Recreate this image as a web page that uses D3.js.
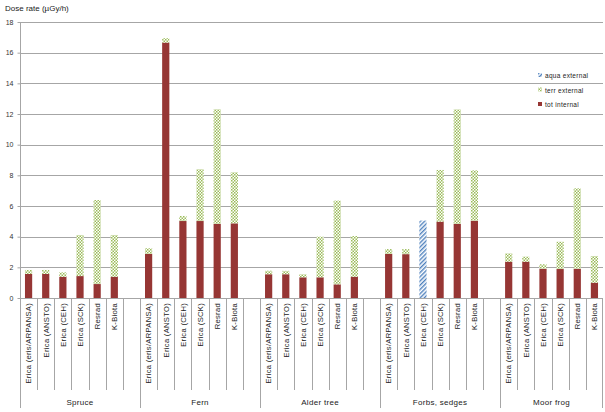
<!DOCTYPE html>
<html><head><meta charset="utf-8">
<script src="https://cdn.jsdelivr.net/npm/d3@7"></script>
<style>
body{margin:0;background:#fff;}
svg{display:block;font-family:"Liberation Sans",Arial,sans-serif;}
</style></head>
<body><svg id="c" width="605" height="412"></svg>
<script>
const groups = ["Spruce","Fern","Alder tree","Forbs, sedges","Moor frog"];
const models = ["Erica (eris/ARPANSA)","Erica (ANSTO)","Erica (CEH)","Erica (SCK)","Resrad","K-Biota"];
// values per group, per model (µGy/h)
const totInternal = [
  [1.57,1.57,1.39,1.43,0.91,1.39],
  [2.87,16.66,5.02,5.02,4.83,4.87],
  [1.55,1.55,1.35,1.35,0.89,1.39],
  [2.87,2.86,0,4.98,4.83,5.04],
  [2.37,2.37,1.91,1.89,1.91,1.00]
];
const terrExternal = [
  [0.26,0.26,0.28,2.68,5.48,2.72],
  [0.37,0.28,0.33,3.38,7.48,3.33],
  [0.23,0.22,0.20,2.65,5.46,2.65],
  [0.32,0.33,0,3.37,7.47,3.28],
  [0.54,0.33,0.29,1.78,5.24,1.74]
];
const aquaExternal = [
  [0,0,0,0,0,0],
  [0,0,0,0,0,0],
  [0,0,0,0,0,0],
  [0,0,5.05,0,0,0],
  [0,0,0,0,0,0]
];
const seriesNames = ["tot internal","terr external","aqua external"];
const yTicks = [0,2,4,6,8,10,12,14,16,18];
const yTitle = "Dose rate (µGy/h)";

const svg = d3.select("#c");
const W=605,H=412;
const x0=20,x1=603,yTop=22,yBot=298;

// defs
const defs = svg.append("defs");
const chk = defs.append("pattern").attr("id","chk").attr("patternUnits","userSpaceOnUse").attr("width",3).attr("height",3);
chk.append("rect").attr("width",3).attr("height",3).attr("fill","#fff");
chk.append("rect").attr("width",1.5).attr("height",1.5).attr("fill","#9bbb59");
chk.append("rect").attr("x",1.5).attr("y",1.5).attr("width",1.5).attr("height",1.5).attr("fill","#9bbb59");
const hat = defs.append("pattern").attr("id","hat").attr("patternUnits","userSpaceOnUse").attr("width",3).attr("height",3).attr("patternTransform","rotate(45)");
hat.append("rect").attr("width",3).attr("height",3).attr("fill","#fff");
hat.append("rect").attr("width",1.4).attr("height",3).attr("fill","#4f81bd");
const fills = ["#963634","url(#chk)","url(#hat)"];

// slots
const slots=[];
groups.forEach((g,gi)=>{
  models.forEach((m,mi)=>{
    slots.push({id:gi+"-"+mi,g:gi,m:mi,label:m,
      vals:[totInternal[gi][mi],terrExternal[gi][mi],aquaExternal[gi][mi]]});
  });
  if(gi<groups.length-1) slots.push({id:gi+"-blank",g:gi,m:-1,label:"",vals:[0,0,0]});
});

const x = d3.scaleBand().domain(slots.map(s=>s.id)).range([x0,x1]).padding(0);
const y = d3.scaleLinear().domain([0,18]).range([yBot,yTop]);
const bw = x.bandwidth();

// gridlines
svg.append("g").selectAll("line").data(yTicks).join("line")
  .attr("x1",x0).attr("x2",x1).attr("y1",d=>Math.round(y(d))+0.5).attr("y2",d=>Math.round(y(d))+0.5)
  .attr("stroke","#a6a6a6").attr("stroke-width",1);

// y axis
const ya = svg.append("g").attr("transform",`translate(${x0+0.5},0)`)
  .call(d3.axisLeft(y).tickValues(yTicks).tickSize(3).tickPadding(4).tickFormat(d3.format("d")));
ya.select(".domain").attr("stroke","#a6a6a6").attr("d",`M0,${yTop}V${yBot}`);
ya.selectAll(".tick line").attr("stroke","#a6a6a6");
ya.selectAll(".tick text").attr("font-size",7).attr("fill","#333");

// bars
const stack = slots.filter(s=>s.m>=0);
const bg = svg.append("g");
stack.forEach(s=>{
  let base=0;
  s.vals.forEach((v,k)=>{
    if(v>0){
      bg.append("rect")
        .attr("x",x(s.id)+bw*0.29).attr("width",bw*0.42)
        .attr("y",y(base+v)).attr("height",y(base)-y(base+v))
        .attr("fill",fills[k]);
    }
    base+=v;
  });
});

// category separators
const sep = svg.append("g").attr("stroke","#a6a6a6").attr("stroke-width",1);
slots.forEach((s,i)=>{
  const xx = Math.round(x(s.id))+0.5;
  const isGroupStart = i===0 || slots[i-1].g!==s.g;
  sep.append("line").attr("x1",xx).attr("x2",xx).attr("y1",yBot).attr("y2",isGroupStart?408:390);
});
sep.append("line").attr("x1",x1-0.5).attr("x2",x1-0.5).attr("y1",yBot).attr("y2",408);

// model labels
svg.append("g").selectAll("text").data(stack).join("text")
  .attr("transform",d=>`translate(${x(d.id)+bw/2+2.8},303) rotate(-90)`)
  .attr("text-anchor","end").attr("font-size",7.6).attr("fill","#222")
  .attr("letter-spacing",0.3)
  .text(d=>d.label);

// group labels
svg.append("g").selectAll("text").data(groups).join("text")
  .attr("x",(d,gi)=>{
    const gs=slots.filter(s=>s.g===gi);
    return (x(gs[0].id)+x(gs[gs.length-1].id)+bw)/2;
  })
  .attr("y",405).attr("text-anchor","middle").attr("font-size",8).attr("fill","#222")
  .attr("letter-spacing",0.3)
  .text(d=>d);

// title
svg.append("text").attr("x",5).attr("y",11).attr("font-size",8).attr("fill","#222").text(yTitle);

// legend
const leg = svg.append("g");
[2,1,0].forEach((k,i)=>{
  const yy = 76 + i*14.5;
  leg.append("rect").attr("x",538).attr("y",yy-3).attr("width",4).attr("height",4).attr("fill",fills[k]);
  leg.append("text").attr("x",545).attr("y",yy+2).attr("font-size",6.5).attr("fill","#222")
    .attr("letter-spacing",0.3).text(seriesNames[k]);
});
</script></body></html>
